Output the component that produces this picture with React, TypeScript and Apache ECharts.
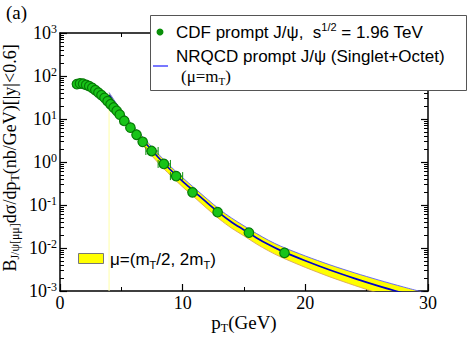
import React, { useEffect, useRef } from "react";
import * as echarts from "echarts";

// CDF prompt J/psi data (pT in GeV, value in nb/GeV)
const cdfPt = [1.38, 1.63, 1.88, 2.13, 2.38, 2.63, 2.88, 3.13, 3.38, 3.63, 3.88, 4.12, 4.37, 4.62, 4.87, 5.24, 5.74, 6.24, 6.74, 7.47, 8.47, 9.47, 10.8, 12.85, 15.4, 18.3];
const cdfVal = [65, 67, 66, 62, 58, 53, 47, 41, 36, 31, 26, 22, 18.5, 15.5, 12.6, 9.0, 6.3, 4.3, 2.95, 1.8, 0.9, 0.47, 0.197, 0.068, 0.0227, 0.0077];
const cdfBinLo = [1.25, 1.5, 1.75, 2, 2.25, 2.5, 2.75, 3, 3.25, 3.5, 3.75, 4, 4.25, 4.5, 4.75, 5, 5.5, 6, 6.5, 7, 8, 9, 10.8, 12.85, 15.4, 18.3];
const cdfBinHi = [1.5, 1.75, 2, 2.25, 2.5, 2.75, 3, 3.25, 3.5, 3.75, 4, 4.25, 4.5, 4.75, 5, 5.5, 6, 6.5, 7, 8, 9, 10, 10.8, 12.85, 15.4, 18.3];

// NRQCD prediction (mu = mT) and scale band (mT/2, 2mT)
const nrqcdPt = [4, 5, 6, 7, 8, 9, 10, 11, 12, 13, 14, 15, 16, 17, 18, 20, 22, 24, 26, 28, 30];
const nrqcdVal = [36, 13.5, 5.75, 2.69, 1.29, 0.66, 0.355, 0.2, 0.112, 0.0646, 0.0398, 0.0263, 0.0174, 0.012, 0.0087, 0.00506, 0.00308, 0.00197, 0.0013, 0.00089, 0.00062];
const bandHi = [41.3, 15.7, 6.76, 3.2, 1.55, 0.794, 0.431, 0.243, 0.138, 0.0794, 0.0495, 0.0327, 0.0219, 0.0151, 0.011, 0.00652, 0.00406, 0.00265, 0.00179, 0.00124, 0.000875];
const bandLo = [27.3, 10.2, 4.32, 2.02, 0.957, 0.49, 0.263, 0.147, 0.082, 0.0468, 0.0288, 0.0191, 0.0125, 0.00859, 0.00617, 0.00354, 0.00213, 0.00135, 0.00088, 0.000594, 0.000409];

const xTicks = [0, 10, 20, 30];

const SERIF = "'Liberation Serif', 'Times New Roman', serif";
const SANS = "'Liberation Sans', Arial, Helvetica, sans-serif";

export default function App() {
  const ref = useRef<HTMLDivElement>(null);

  useEffect(() => {
    document.body.style.margin = "0";
    if (!ref.current) return;
    const chart = echarts.init(ref.current, null, { renderer: "svg" });

    const axisCommon = {
      axisLine: { show: true, onZero: false, lineStyle: { color: "#000", width: 1.5 } },
      axisTick: { show: true, inside: true, length: 7, lineStyle: { color: "#000", width: 1.2 } },
      minorTick: { show: true, length: 4, lineStyle: { color: "#000", width: 1 } },
      splitLine: { show: false },
      minorSplitLine: { show: false },
    };

    const xAxisBase = {
      type: "value",
      min: xTicks[0],
      max: xTicks[xTicks.length - 1],
      interval: 10,
      ...axisCommon,
      minorTick: { ...axisCommon.minorTick, splitNumber: 2 },
    };
    const yAxisBase = {
      type: "log",
      logBase: 10,
      min: 1e-3,
      max: 1e3,
      splitNumber: 6,
      ...axisCommon,
      minorTick: { ...axisCommon.minorTick, splitNumber: 9 },
    };

    const scatterData = cdfPt.map((x, i) => [x, cdfVal[i]]);
    const errData = cdfPt.map((x, i) => [x, cdfVal[i], cdfBinLo[i], cdfBinHi[i]]);

    const errStyle = { stroke: "#0a8f0a", lineWidth: 1 };
    const Z = 100;

    const option = {
      animation: false,
      grid: { left: 60, right: 40, top: 33, bottom: 46, containLabel: false },
      xAxis: [
        {
          ...xAxisBase,
          position: "bottom",
          axisLabel: {
            show: true,
            margin: 3,
            fontFamily: SERIF,
            fontSize: 18,
            color: "#000",
          },
        },
        {
          ...xAxisBase,
          position: "top",
          axisLabel: { show: false },
        },
      ],
      yAxis: [
        {
          ...yAxisBase,
          position: "left",
          axisLabel: {
            show: true,
            margin: 3,
            formatter: (v: number) => "{b|10}{s|" + Math.round(Math.log10(v)) + "}",
            rich: {
              b: { fontFamily: SERIF, fontSize: 18, color: "#000", lineHeight: 20 },
              s: { fontFamily: SERIF, fontSize: 12, color: "#000", verticalAlign: "top", lineHeight: 12 },
            },
          },
        },
        {
          ...yAxisBase,
          position: "right",
          axisLabel: { show: false },
        },
      ],
      series: [
        {
          type: "custom",
          name: "band",
          z: 1,
          data: [[nrqcdPt[0], nrqcdVal[0]]],
          encode: { x: 0, y: 1 },
          renderItem: (params: any, api: any) => {
            const up = nrqcdPt.map((x, i) => api.coord([x, bandHi[i]]));
            const lo = nrqcdPt.map((x, i) => api.coord([x, bandLo[i]])).reverse();
            const cs = params.coordSys;
            const base = api.coord([nrqcdPt[0], 1e-3]);
            return {
              type: "group",
              clipPath: { type: "rect", shape: { x: cs.x, y: cs.y, width: cs.width, height: cs.height } },
              children: [
                {
                  type: "line",
                  shape: { x1: lo[lo.length - 1][0], y1: lo[lo.length - 1][1], x2: base[0], y2: base[1] },
                  style: { stroke: "#ffffa8", lineWidth: 1 },
                },
                {
                  type: "polygon",
                  shape: { points: up.concat(lo) },
                  style: { fill: "#ffff00", stroke: "none" },
                },
              ],
            };
          },
        },
        {
          type: "line",
          name: "bandHi",
          z: 2,
          data: nrqcdPt.map((x, i) => [x, bandHi[i]]),
          showSymbol: false,
          smooth: 0.3,
          lineStyle: { color: "#5a5aff", width: 0.9 },
        },
        {
          type: "line",
          name: "bandLo",
          z: 2,
          data: nrqcdPt.map((x, i) => [x, bandLo[i]]),
          showSymbol: false,
          smooth: 0.3,
          lineStyle: { color: "#d9a55a", width: 0.9 },
        },
        {
          type: "line",
          name: "NRQCD",
          z: 3,
          data: nrqcdPt.map((x, i) => [x, nrqcdVal[i]]),
          showSymbol: false,
          smooth: 0.3,
          lineStyle: { color: "#0000cc", width: 1.7 },
        },
        {
          type: "custom",
          name: "errors",
          z: 4,
          data: errData,
          encode: { x: 0, y: 1 },
          renderItem: (params: any, api: any) => {
            const y = api.value(1);
            const lo = api.value(2);
            const hi = api.value(3);
            if (!(hi > lo)) return null;
            const p1 = api.coord([lo, y]);
            const p2 = api.coord([hi, y]);
            const c = 4;
            return {
              type: "group",
              children: [
                { type: "line", shape: { x1: p1[0], y1: p1[1], x2: p2[0], y2: p2[1] }, style: errStyle },
                { type: "line", shape: { x1: p1[0], y1: p1[1] - c, x2: p1[0], y2: p1[1] + c }, style: errStyle },
                { type: "line", shape: { x1: p2[0], y1: p2[1] - c, x2: p2[0], y2: p2[1] + c }, style: errStyle },
              ],
            };
          },
        },
        {
          type: "scatter",
          name: "CDF",
          z: 5,
          data: scatterData,
          symbol: "circle",
          symbolSize: 9.5,
          itemStyle: { color: "#18c418", borderColor: "#067a06", borderWidth: 1.2, opacity: 1 },
        },
      ],
      graphic: [
        {
          type: "text",
          left: 6,
          top: 3,
          z: Z,
          style: { text: "(a)", fontFamily: SERIF, fontSize: 19, fill: "#000" },
        },
        {
          type: "text",
          x: 10,
          y: 158,
          z: Z,
          rotation: Math.PI / 2,
          style: {
            text: "B{sub|J/ψ[μμ]}dσ/dp{sub|T}(nb/GeV)[|y|<0.6]",
            align: "center",
            verticalAlign: "middle",
            fontFamily: SERIF,
            fontSize: 18,
            fill: "#000",
            lineHeight: 22,
            rich: {
              sub: { fontFamily: SERIF, fontSize: 12, fill: "#000", verticalAlign: "bottom", lineHeight: 12 },
            },
          },
        },
        {
          type: "text",
          x: 244,
          y: 322,
          z: Z,
          style: {
            text: "p{sub|T}(GeV)",
            align: "center",
            verticalAlign: "middle",
            fontFamily: SERIF,
            fontSize: 19,
            fill: "#000",
            lineHeight: 24,
            rich: {
              sub: { fontFamily: SERIF, fontSize: 12, fill: "#000", verticalAlign: "bottom", lineHeight: 12 },
            },
          },
        },
        // top legend box
        {
          type: "rect",
          z: Z,
          shape: { x: 150.5, y: 15.5, width: 316, height: 75 },
          style: { fill: "#fff", stroke: "#555", lineWidth: 1 },
        },
        {
          type: "circle",
          z: Z + 1,
          shape: { cx: 160, cy: 32, r: 3.5 },
          style: { fill: "#0a8f0a" },
        },
        {
          type: "text",
          z: Z + 1,
          x: 176,
          y: 32,
          style: {
            text: "CDF prompt J/ψ,  s{sup|1/2} = 1.96 TeV",
            verticalAlign: "middle",
            fontFamily: SANS,
            fontSize: 17,
            fill: "#000",
            lineHeight: 22,
            rich: {
              sup: { fontFamily: SANS, fontSize: 11, fill: "#000", verticalAlign: "top", lineHeight: 11 },
            },
          },
        },
        {
          type: "line",
          z: Z + 1,
          shape: { x1: 153, y1: 66, x2: 168, y2: 66 },
          style: { stroke: "#4b4bff", lineWidth: 1.5 },
        },
        {
          type: "text",
          z: Z + 1,
          x: 176,
          y: 56,
          style: {
            text: "NRQCD prompt J/ψ (Singlet+Octet)",
            verticalAlign: "middle",
            fontFamily: SANS,
            fontSize: 17,
            fill: "#000",
          },
        },
        {
          type: "text",
          z: Z + 1,
          x: 181,
          y: 76,
          style: {
            text: "(μ=m{sub|T})",
            verticalAlign: "middle",
            fontFamily: SERIF,
            fontSize: 17,
            fill: "#000",
            lineHeight: 20,
            rich: {
              sub: { fontFamily: SERIF, fontSize: 11, fill: "#000", verticalAlign: "bottom", lineHeight: 11 },
            },
          },
        },
        // bottom-left band legend
        {
          type: "rect",
          z: Z,
          shape: { x: 78.5, y: 253.5, width: 25, height: 10 },
          style: { fill: "#ffff00", stroke: "#777", lineWidth: 1 },
        },
        {
          type: "text",
          z: Z,
          x: 110,
          y: 259,
          style: {
            text: "μ=(m{sub|T}/2, 2m{sub|T})",
            verticalAlign: "middle",
            fontFamily: SANS,
            fontSize: 17,
            fill: "#000",
            lineHeight: 22,
            rich: {
              sub: { fontFamily: SANS, fontSize: 11, fill: "#000", verticalAlign: "bottom", lineHeight: 11 },
            },
          },
        },
      ],
    };

    chart.setOption(option as any);
    return () => {
      chart.dispose();
    };
  }, []);

  return <div ref={ref} style={{ width: 468, height: 337 }} />;
}
